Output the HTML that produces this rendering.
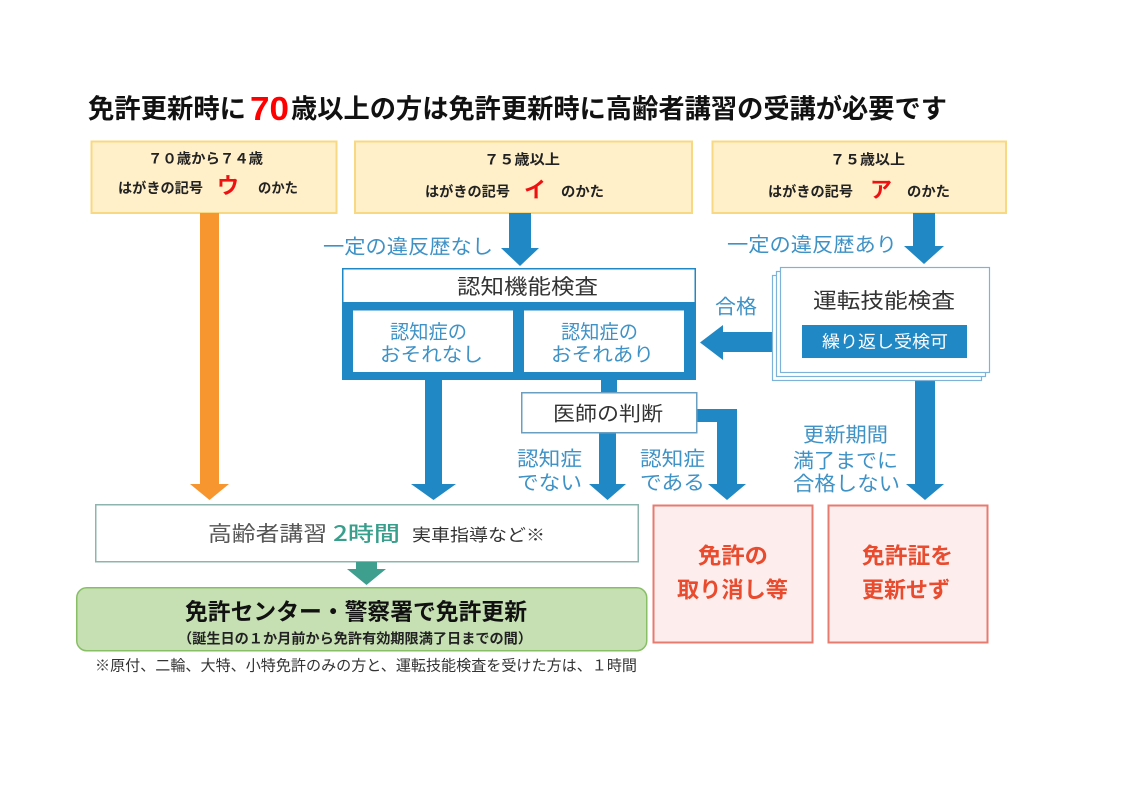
<!DOCTYPE html>
<html><head><meta charset="utf-8">
<style>
html,body{margin:0;padding:0;background:#fff;}
svg{display:block;}
text{font-family:"Liberation Sans","Noto Sans CJK JP",sans-serif;}
.cjk{font-family:"Noto Sans CJK JP","Liberation Sans",sans-serif;}
</style></head>
<body>
<svg width="1121" height="792" viewBox="0 0 1121 792" xmlns="http://www.w3.org/2000/svg">
<rect width="1121" height="792" fill="#fff"/>

<!-- Title -->
<text class="cjk" x="88" y="118" font-size="26.5" font-weight="bold" fill="#111" textLength="158" lengthAdjust="spacingAndGlyphs">免許更新時に</text>
<text x="250" y="120" font-size="33" font-weight="bold" fill="#ff0000" textLength="39" lengthAdjust="spacingAndGlyphs">70</text>
<text class="cjk" x="291" y="118" font-size="26.5" font-weight="bold" fill="#111" textLength="656" lengthAdjust="spacingAndGlyphs">歳以上の方は免許更新時に高齢者講習の受講が必要です</text>

<!-- Top boxes -->
<rect x="91.5" y="141.5" width="245" height="71.5" fill="#fff0c9" stroke="#f8d882" stroke-width="2"/>
<rect x="355" y="141.5" width="337" height="71.5" fill="#fff0c9" stroke="#f8d882" stroke-width="2"/>
<rect x="712.5" y="141.5" width="293.5" height="71.5" fill="#fff0c9" stroke="#f8d882" stroke-width="2"/>

<g class="cjk" font-weight="bold" fill="#222" font-size="14">
  <text x="148" y="163.3" textLength="115" lengthAdjust="spacingAndGlyphs">７０歳から７４歳</text>
  <text x="118" y="192.8" textLength="85" lengthAdjust="spacingAndGlyphs">はがきの記号</text>
  <text x="258" y="192.8" textLength="40" lengthAdjust="spacingAndGlyphs">のかた</text>

  <text x="484" y="164.3" textLength="76" lengthAdjust="spacingAndGlyphs">７５歳以上</text>
  <text x="425" y="196.3" textLength="85" lengthAdjust="spacingAndGlyphs">はがきの記号</text>
  <text x="561" y="196.3" textLength="43" lengthAdjust="spacingAndGlyphs">のかた</text>

  <text x="830" y="164.3" textLength="75" lengthAdjust="spacingAndGlyphs">７５歳以上</text>
  <text x="768" y="196.3" textLength="85" lengthAdjust="spacingAndGlyphs">はがきの記号</text>
  <text x="907" y="196.3" textLength="43" lengthAdjust="spacingAndGlyphs">のかた</text>
</g>
<g class="cjk" font-weight="bold" fill="#ee1111" font-size="22">
  <text x="217" y="193.4">ウ</text>
  <text x="524" y="197.4">イ</text>
  <text x="870" y="197.4">ア</text>
</g>

<!-- Orange arrow -->
<polygon points="200,213 219,213 219,484 229,484 209.5,500 190,484 200,484" fill="#f7962f"/>

<!-- Blue arrows -->
<g fill="#2088c4">
  <polygon points="509,213 531,213 531,248 539,248 520,266 501,248 509,248"/>
  <polygon points="913,213 935,213 935,246 944,246 924,264 904,246 913,246"/>
  <polygon points="425,380 442,380 442,484 456,484 433.5,500 411,484 425,484"/>
  <rect x="601" y="379" width="16" height="14"/>
  <polygon points="599,433 616,433 616,484 626,484 607.5,500 589,484 599,484"/>
  <polygon points="697,409 737,409 737,484 746,484 727,500 708,484 717,484 717,422 697,422"/>
  <polygon points="772,332 723,332 723,325 700,342.5 723,360 723,352 772,352"/>
  <polygon points="915,381 935,381 935,484 944,484 925,500 906,484 915,484"/>
</g>

<!-- Blue labels -->
<g class="cjk" fill="#3f92c6" font-size="20">
  <text x="323" y="253.6" textLength="170" lengthAdjust="spacingAndGlyphs">一定の違反歴なし</text>
  <text x="727" y="251.6" textLength="170" lengthAdjust="spacingAndGlyphs">一定の違反歴あり</text>
  <text x="715" y="313.6" textLength="42" lengthAdjust="spacingAndGlyphs">合格</text>
  <text x="517" y="465.6" textLength="65" lengthAdjust="spacingAndGlyphs">認知症</text>
  <text x="517" y="489.6" textLength="65" lengthAdjust="spacingAndGlyphs">でない</text>
  <text x="640" y="465.6" textLength="65" lengthAdjust="spacingAndGlyphs">認知症</text>
  <text x="640" y="489.6" textLength="65" lengthAdjust="spacingAndGlyphs">である</text>
  <text x="803" y="441.6" textLength="85" lengthAdjust="spacingAndGlyphs">更新期間</text>
  <text x="793" y="467.6" textLength="105" lengthAdjust="spacingAndGlyphs">満了までに</text>
  <text x="793" y="490.6" textLength="107" lengthAdjust="spacingAndGlyphs">合格しない</text>
</g>

<!-- Cognitive test block -->
<rect x="342" y="302" width="354" height="78" fill="#2088c4"/>
<rect x="353" y="310.5" width="160" height="61.5" fill="#fff"/>
<rect x="524" y="310.5" width="160" height="61.5" fill="#fff"/>
<rect x="342.75" y="268.75" width="352.5" height="34" fill="#fff" stroke="#2088c4" stroke-width="1.5"/>
<text class="cjk" x="457" y="294" font-size="21" fill="#333" textLength="141" lengthAdjust="spacingAndGlyphs">認知機能検査</text>
<g class="cjk" fill="#3f92c6" font-size="19.5">
  <text x="390" y="338.5" textLength="77" lengthAdjust="spacingAndGlyphs">認知症の</text>
  <text x="380" y="361" textLength="103" lengthAdjust="spacingAndGlyphs">おそれなし</text>
  <text x="561" y="338.5" textLength="77" lengthAdjust="spacingAndGlyphs">認知症の</text>
  <text x="551" y="361" textLength="103" lengthAdjust="spacingAndGlyphs">おそれあり</text>
</g>

<!-- Doctor box -->
<rect x="521.75" y="392.75" width="175" height="40" fill="#fff" stroke="#6a9fc2" stroke-width="1.5"/>
<text class="cjk" x="553" y="420.6" font-size="20" fill="#333" textLength="110" lengthAdjust="spacingAndGlyphs">医師の判断</text>

<!-- Driving skill test cards -->
<rect x="772.5" y="275.5" width="209" height="105" fill="#fff" stroke="#7db3d8" stroke-width="1.2"/>
<rect x="776.5" y="271.5" width="209" height="105" fill="#fff" stroke="#7db3d8" stroke-width="1.2"/>
<rect x="780.5" y="267.5" width="209" height="105" fill="#fff" stroke="#7db3d8" stroke-width="1.2"/>
<text class="cjk" x="813" y="308" font-size="21" fill="#333" textLength="142" lengthAdjust="spacingAndGlyphs">運転技能検査</text>
<rect x="802" y="325" width="165" height="33" fill="#2088c4"/>
<text class="cjk" x="822" y="347.5" font-size="17" fill="#fff" textLength="126" lengthAdjust="spacingAndGlyphs">繰り返し受検可</text>

<!-- Red boxes -->
<rect x="653.5" y="505.5" width="159" height="137" fill="#fdeeed" stroke="#e87b70" stroke-width="2"/>
<rect x="828.5" y="505.5" width="159" height="137" fill="#fdeeed" stroke="#e87b70" stroke-width="2"/>
<g class="cjk" fill="#e84b2e" font-size="22" font-weight="bold">
  <text x="698" y="563.4" textLength="70" lengthAdjust="spacingAndGlyphs">免許の</text>
  <text x="677" y="597.4" textLength="111" lengthAdjust="spacingAndGlyphs">取り消し等</text>
  <text x="862" y="563.4" textLength="91" lengthAdjust="spacingAndGlyphs">免許証を</text>
  <text x="862" y="597.4" textLength="88" lengthAdjust="spacingAndGlyphs">更新せず</text>
</g>

<!-- Lecture box -->
<rect x="95.75" y="504.75" width="542.5" height="57" fill="#fff" stroke="#8db4ae" stroke-width="1.5"/>
<text class="cjk" x="208" y="541" font-size="21" fill="#555" textLength="119" lengthAdjust="spacingAndGlyphs">高齢者講習</text>
<text class="cjk" x="333" y="541" font-size="21" fill="#3a9e8c" font-weight="500" textLength="67" lengthAdjust="spacingAndGlyphs">2時間</text>
<text class="cjk" x="412" y="541" font-size="17" fill="#333" textLength="133" lengthAdjust="spacingAndGlyphs">実車指導など※</text>

<!-- Teal arrow -->
<polygon points="356,562 377,562 377,569 386,569 366.5,585 347,569 356,569" fill="#3e9f8f"/>

<!-- Green box -->
<rect x="76.75" y="587.75" width="570" height="63" rx="10" ry="10" fill="#c6e0b3" stroke="#88bf66" stroke-width="1.5"/>
<text class="cjk" x="185" y="619.7" font-size="23" font-weight="bold" fill="#111" textLength="342" lengthAdjust="spacingAndGlyphs">免許センター・警察署で免許更新</text>
<text class="cjk" x="178" y="643.3" font-size="14" font-weight="bold" fill="#222" textLength="354" lengthAdjust="spacingAndGlyphs">（誕生日の１か月前から免許有効期限満了日までの間）</text>

<!-- Footnote -->
<text class="cjk" x="95" y="670.7" font-size="15" fill="#333" textLength="542" lengthAdjust="spacingAndGlyphs">※原付、二輪、大特、小特免許のみの方と、運転技能検査を受けた方は、１時間</text>
</svg>
</body></html>
